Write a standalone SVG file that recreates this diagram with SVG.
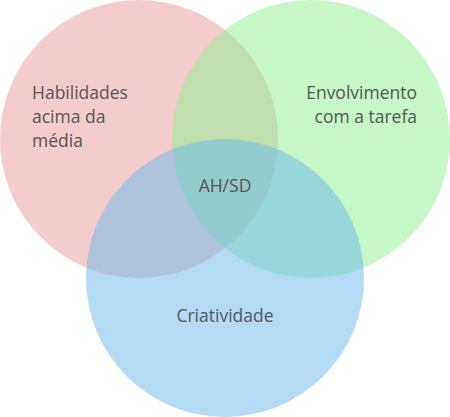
<svg xmlns="http://www.w3.org/2000/svg" width="450" height="417" viewBox="0 0 450 417">
<style>
.c{fill-opacity:0.5}
.t{font-family:"Open Sans","Noto Sans","Liberation Sans",sans-serif;font-size:17.5px;fill:#555}
</style>
<rect width="450" height="417" fill="#fff"/>
<g id="habilidades">
<circle class="c" cx="139" cy="139" r="139" fill="#eb9999"/>
</g>
<g id="envolvimento">
<circle class="c" cx="311" cy="139" r="139" fill="#8def8d"/>
</g>
<g id="criatividade">
<circle class="c" cx="225" cy="278" r="139" fill="#67b7eb"/>
</g>
<g id="labels">
<text class="t" x="32" y="99">Habilidades</text>
<text class="t" x="32" y="123">acima da</text>
<text class="t" x="32" y="147">média</text>
<text class="t" x="417" y="99" text-anchor="end">Envolvimento</text>
<text class="t" x="417" y="123" text-anchor="end">com a tarefa</text>
<text class="t" x="225" y="192" text-anchor="middle">AH/SD</text>
<text class="t" x="225" y="322" text-anchor="middle">Criatividade</text>
</g>
<g id="connectors"/>
</svg>
